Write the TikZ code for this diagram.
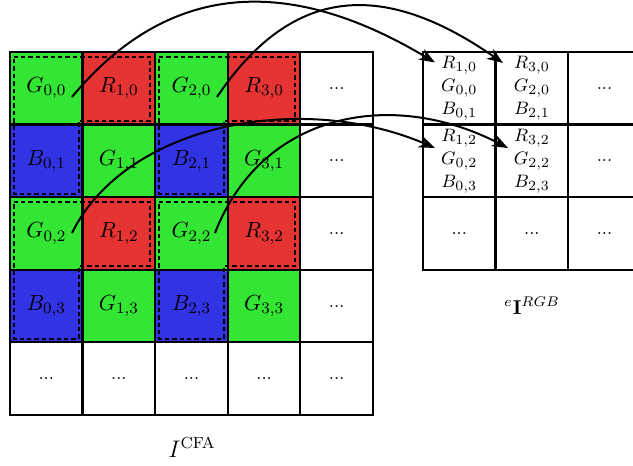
\documentclass[tikz,border=0pt]{standalone}
\usetikzlibrary{arrows.meta,calc}
\definecolor{cgreen}{RGB}{51,230,51}
\definecolor{cred}{RGB}{230,51,51}
\definecolor{cblue}{RGB}{51,51,230}
\begin{document}
\begin{tikzpicture}[x=0.5pt,y=-0.5pt,
  cell/.style={draw=black, line width=1.1pt, minimum size=36.35pt, inner sep=0pt, outer sep=0pt, font=\fontsize{11}{13}\selectfont},
  gcell/.style={cell, fill=cgreen},
  rcell/.style={cell, fill=cred},
  bcell/.style={cell, fill=cblue},
  dcell/.style={cell, fill=white, font=\fontsize{9}{10}\selectfont},
  rtext/.style={cell, align=center, font=\fontsize{9.5}{11.5}\selectfont},
  grp/.style={draw=black, line width=1pt, dash pattern=on 2.2pt off 1.5pt},
  arr/.style={-{Stealth[length=8pt,width=6pt,inset=2.5pt]}, line width=1pt}]
\clip (0,0) rectangle (633,466);
\fill[white] (0,0) rectangle (633,466);
% left grid
\node[gcell] (c00) at (46.3,88.3) {$G_{0,0}$};
\node[rcell] (c10) at (118.9,88.3) {$R_{1,0}$};
\node[gcell] (c20) at (191.5,88.3) {$G_{2,0}$};
\node[rcell] (c30) at (264.1,88.3) {$R_{3,0}$};
\node[dcell] (c40) at (336.7,88.3) {...};
\node[bcell] (c01) at (46.3,160.9) {$B_{0,1}$};
\node[gcell] (c11) at (118.9,160.9) {$G_{1,1}$};
\node[bcell] (c21) at (191.5,160.9) {$B_{2,1}$};
\node[gcell] (c31) at (264.1,160.9) {$G_{3,1}$};
\node[dcell] (c41) at (336.7,160.9) {...};
\node[gcell] (c02) at (46.3,233.5) {$G_{0,2}$};
\node[rcell] (c12) at (118.9,233.5) {$R_{1,2}$};
\node[gcell] (c22) at (191.5,233.5) {$G_{2,2}$};
\node[rcell] (c32) at (264.1,233.5) {$R_{3,2}$};
\node[dcell] (c42) at (336.7,233.5) {...};
\node[bcell] (c03) at (46.3,306.1) {$B_{0,3}$};
\node[gcell] (c13) at (118.9,306.1) {$G_{1,3}$};
\node[bcell] (c23) at (191.5,306.1) {$B_{2,3}$};
\node[gcell] (c33) at (264.1,306.1) {$G_{3,3}$};
\node[dcell] (c43) at (336.7,306.1) {...};
\node[dcell] (c04) at (46.3,378.7) {...};
\node[dcell] (c14) at (118.9,378.7) {...};
\node[dcell] (c24) at (191.5,378.7) {...};
\node[dcell] (c34) at (264.1,378.7) {...};
\node[dcell] (c44) at (336.7,378.7) {...};
% dashed groups
\foreach \dx/\dy in {0/0, 145.2/0, 0/145.2, 145.2/145.2}{
  \draw[grp, shift={(\dx,\dy)}] (13.5,56.5) -- (150,56.5) -- (150,120.5) -- (78.5,120.5) -- (78.5,193.5) -- (13.5,193.5) -- cycle;
}
% right grid
\node[rtext] (r00) at (459.3,88.3) {$R_{1,0}$\\$G_{0,0}$\\$B_{0,1}$};
\node[rtext] (r10) at (531.9,88.3) {$R_{3,0}$\\$G_{2,0}$\\$B_{2,1}$};
\node[dcell] (r20) at (604.5,88.3) {...};
\node[rtext] (r01) at (459.3,160.9) {$R_{1,2}$\\$G_{0,2}$\\$B_{0,3}$};
\node[rtext] (r11) at (531.9,160.9) {$R_{3,2}$\\$G_{2,2}$\\$B_{2,3}$};
\node[dcell] (r21) at (604.5,160.9) {...};
\node[dcell] (r02) at (459.3,233.5) {...};
\node[dcell] (r12) at (531.9,233.5) {...};
\node[dcell] (r22) at (604.5,233.5) {...};
% labels
\node[font=\fontsize{12}{14}\selectfont, anchor=base, inner sep=0pt] (lcfa) at (192,457) {$I^{\mathrm{CFA}}$};
\node[font=\fontsize{10}{12}\selectfont, anchor=base, inner sep=0pt] (lrgb) at (532,314) {${}^{e}\mathbf{I}^{RGB}$};
% arrows
\coordinate (s1) at ($(c00.center)+(25.7,8.7)$);
\coordinate (s2) at ($(c20.center)+(25.5,8.7)$);
\coordinate (s3) at ($(c02.center)+(25.7,-0.5)$);
\coordinate (s4) at ($(c22.center)+(23.5,-0.5)$);
\coordinate (e1) at ($(r00.center)+(-24.3,-25.8)$);
\coordinate (e2) at ($(r10.center)+(-28.9,-25.3)$);
\coordinate (e3) at ($(r01.center)+(-24.3,-12.9)$);
\coordinate (e4) at ($(r11.center)+(-23.9,-12.9)$);
\draw[arr] (s1) .. controls (174,-26) and (298,-19.6) .. (e1);
\draw[arr] (s2) .. controls (295,-19) and (388,-17) .. (e2);
\draw[arr] (s3) .. controls (125,125) and (300,90) .. (e3);
\draw[arr] (s4) .. controls (262,112) and (392,88) .. (e4);
\end{tikzpicture}
\end{document}
